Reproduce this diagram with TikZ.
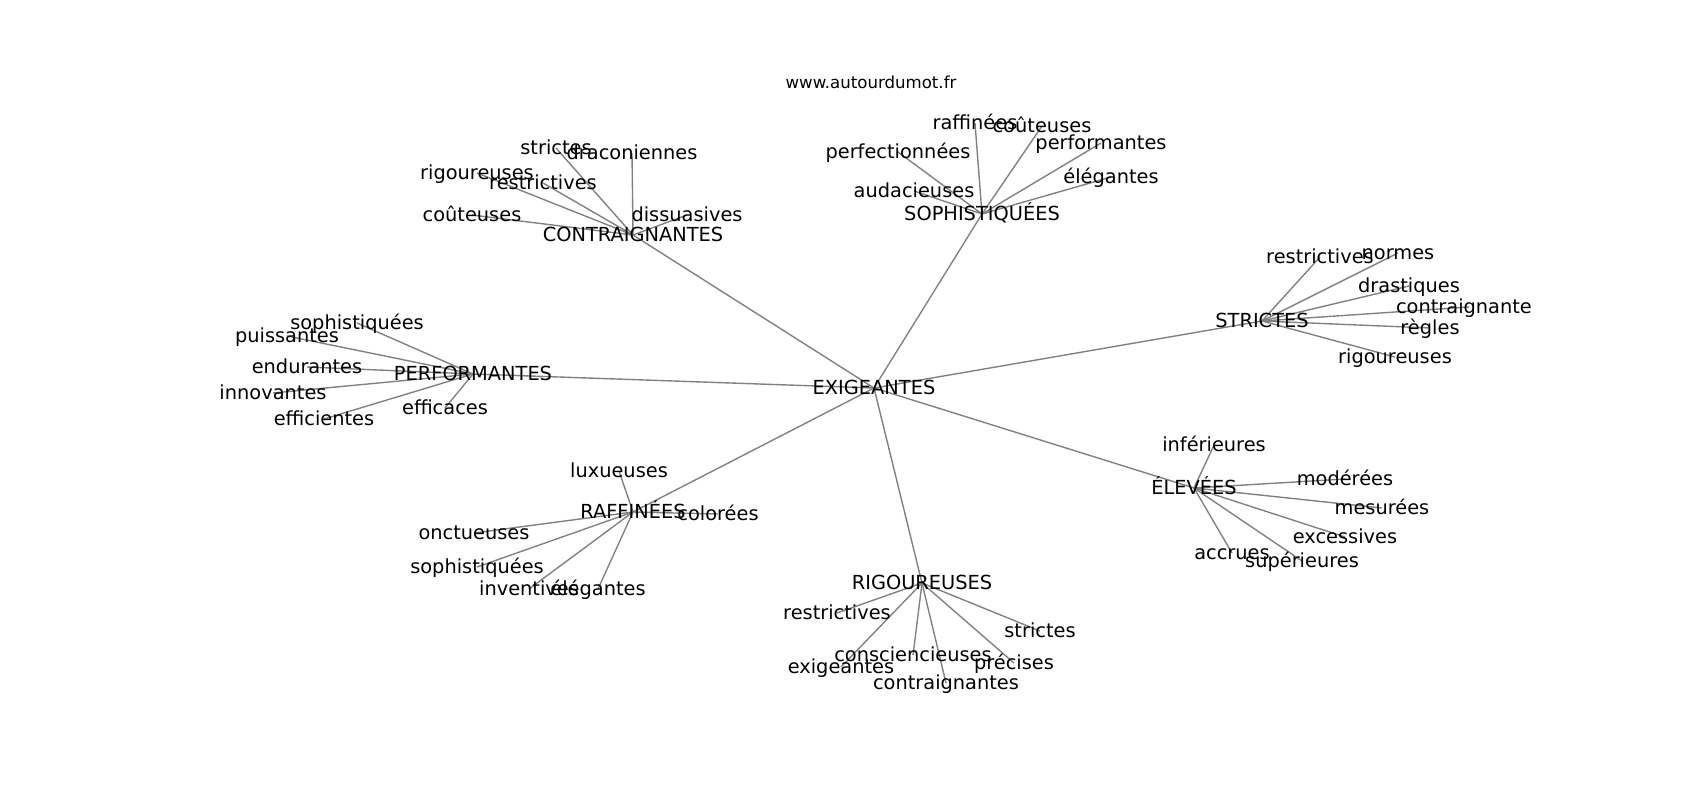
\documentclass[tikz,border=0pt]{standalone}
\usepackage{fontspec}
\setmainfont{DejaVu Sans}
\usetikzlibrary{backgrounds}

\begin{document}
\begin{tikzpicture}[x=0.254mm, y=-0.254mm]

\def \axleft {212.5}
\def \axright {1530}
\def \axtop {96}
\def \axbottom {712} % axes frame, texts are clipped to it

\useasboundingbox (0,0) rectangle (1700,800);
\node[font=\fontsize{12}{14}\selectfont, inner sep=0] (title) at (871,82) {www.autourdumot.fr};

\begin{scope}
\clip (\axleft,\axtop) rectangle (\axright,\axbottom);
\begin{scope}[every node/.style={font=\fontsize{14}{17}\selectfont, inner sep=0, text height=1em, text depth=0.1em},
  link/.style={draw=gray, line width=1pt}]

\node (exig) at (874,388) {EXIGEANTES};

\foreach \id/\x/\y/\word in {contr/633/235/CONTRAIGNANTES, soph/982/214/SOPHISTIQUÉES,
  stri/1262/321/STRICTES, perf/473/374/PERFORMANTES, raff/633/512/RAFFINÉES,
  rigo/922/583/RIGOUREUSES, elev/1194/488/ÉLEVÉES}
{
  \node (\id) at (\x,\y) {\word};
  \scoped[on background layer] \draw[link] (exig.center) -- (\id.center);
}

\foreach \x/\y/\word [count=\s] in {556/148/strictes, 632/153/draconiennes, 477/173/rigoureuses,
  543/183/restrictives, 472/215/coûteuses, 687/215/dissuasives}
{
  \node (contr\s) at (\x,\y) {\word};
  \scoped[on background layer] \draw[link] (contr.center) -- (contr\s.center);
}

\foreach \x/\y/\word [count=\s] in {975/123/raffinées, 1042/126/coûteuses, 1101/143/performantes,
  898/152/perfectionnées, 1111/177/élégantes, 914/191/audacieuses}
{
  \node (soph\s) at (\x,\y) {\word};
  \scoped[on background layer] \draw[link] (soph.center) -- (soph\s.center);
}

\foreach \x/\y/\word [count=\s] in {1320/257/restrictives, 1398/253/normes, 1409/286/drastiques,
  1469/307/contraignantes, 1430/328/règles, 1395/357/rigoureuses}
{
  \node (stri\s) at (\x,\y) {\word};
  \scoped[on background layer] \draw[link] (stri.center) -- (stri\s.center);
}

\foreach \x/\y/\word [count=\s] in {357/323/sophistiquées, 287/336/puissantes, 307/367/endurantes,
  273/393/innovantes, 324/419/efficientes, 445/408/efficaces}
{
  \node (perf\s) at (\x,\y) {\word};
  \scoped[on background layer] \draw[link] (perf.center) -- (perf\s.center);
}

\foreach \x/\y/\word [count=\s] in {619/471/luxueuses, 718/514/colorées, 474/533/onctueuses,
  477/567/sophistiquées, 529/589/inventives, 598/589/élégantes}
{
  \node (raff\s) at (\x,\y) {\word};
  \scoped[on background layer] \draw[link] (raff.center) -- (raff\s.center);
}

\foreach \x/\y/\word [count=\s] in {837/613/restrictives, 1040/631/strictes, 913/655/consciencieuses,
  841/667/exigeantes, 1014/663/précises, 946/683/contraignantes}
{
  \node (rigo\s) at (\x,\y) {\word};
  \scoped[on background layer] \draw[link] (rigo.center) -- (rigo\s.center);
}

\foreach \x/\y/\word [count=\s] in {1214/445/inférieures, 1345/479/modérées, 1382/508/mesurées,
  1345/537/excessives, 1232/553/accrues, 1302/561/supérieures}
{
  \node (elev\s) at (\x,\y) {\word};
  \scoped[on background layer] \draw[link] (elev.center) -- (elev\s.center);
}

\end{scope}
\end{scope}

\end{tikzpicture}
\end{document}
